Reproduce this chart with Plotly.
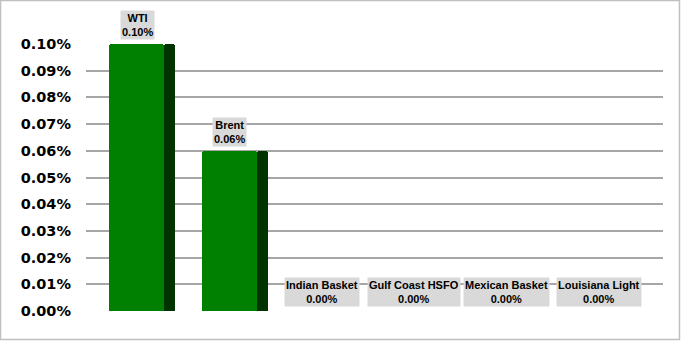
import plotly.graph_objects as go

categories = ["WTI", "Brent", "Indian Basket", "Gulf Coast HSFO", "Mexican Basket", "Louisiana Light"]
values = [0.10, 0.06, 0.00, 0.00, 0.00, 0.00]
tick_vals = [0.00, 0.01, 0.02, 0.03, 0.04, 0.05, 0.06, 0.07, 0.08, 0.09, 0.10]

W, H = 681, 341
L, R, T, B = 86, 18, 44, 30
pw = W - L - R
ph = H - T - B

xs = list(range(len(categories)))

fig = go.Figure()
# front face
fig.add_trace(go.Bar(
    x=xs, y=values, width=0.595, offset=-0.3,
    marker=dict(color="#008000", line=dict(width=0), cornerradius=3),
    hoverinfo="skip", showlegend=False,
))
# dark side face
fig.add_trace(go.Bar(
    x=xs, y=values, width=0.12, offset=0.295,
    marker=dict(color="#003300", line=dict(width=0), cornerradius=3),
    hoverinfo="skip", showlegend=False,
))

for i, (c, v) in enumerate(zip(categories, values)):
    fig.add_annotation(
        x=i, y=v, xref="x", yref="y",
        text=f"<b>{c}</b><br><b>{v:.2f}%</b>",
        showarrow=False, yanchor="bottom", yshift=4, xshift=0,
        bgcolor="#d9d9d9", borderpad=1,
        font=dict(family="Liberation Sans, Arial", size=11, color="#000000"),
    )

# outer border of the chart
fig.add_shape(
    type="rect", xref="paper", yref="paper",
    x0=(0.5 - L) / pw, x1=(W - 1.5 - L) / pw,
    y0=-(B - 1.5) / ph, y1=1 + (T - 0.5) / ph,
    line=dict(color="#bfbfbf", width=1.5), fillcolor="rgba(0,0,0,0)", layer="below",
)

fig.update_layout(
    width=W, height=H,
    margin=dict(l=L, r=R, t=T, b=B, pad=0),
    paper_bgcolor="white", plot_bgcolor="white",
    barmode="overlay", bargap=0,
    xaxis=dict(range=[-0.552, 5.693], showticklabels=False, showgrid=False,
               zeroline=False, showline=False, ticks=""),
    yaxis=dict(range=[0, 0.10], tickvals=tick_vals, ticktext=[f"{t:.2f}%" for t in tick_vals],
               showgrid=True, gridcolor="#a6a6a6", gridwidth=1.5, zeroline=False,
               showline=False, ticks="", ticklen=0,
               tickfont=dict(family="DejaVu Sans", size=14.5, color="#000000", weight="bold"),
               ticklabelstandoff=14),
)

fig.write_html("out.html")
